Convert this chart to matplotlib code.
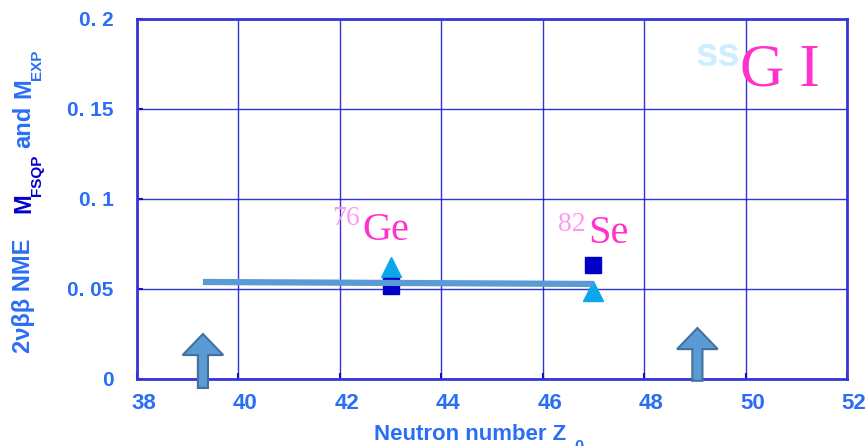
import matplotlib
matplotlib.use("Agg")
import matplotlib.pyplot as plt
import matplotlib.transforms as mtransforms
from matplotlib.patches import FancyArrow

sans = 'Liberation Sans'

# data
nuclei = ['76Ge', '82Se']
neutron_z = [43, 47]
m_exp = [0.0622, 0.0489]      # triangles
m_fsqp = [0.0517, 0.0636]     # squares
fit_x = [39.3, 47.0]
fit_y = [0.0539, 0.0528]
arrow_x = [39.3, 49.05]
arrow_y0 = [-0.005, -0.001]
arrow_y1 = [0.025, 0.0283]
xticks = [38, 40, 42, 44, 46, 48, 50, 52]
yticks = [0, 0.05, 0.1, 0.15, 0.2]
ytick_labels = ['0', '0. 05', '0. 1', '0. 15', '0. 2']

BLUE = '#2a6ef5'
DARK = '#0000c8'
PINK = '#ff33cc'
LPINK = '#ff99ee'

fig = plt.figure(figsize=(8.65, 4.46), dpi=100)
ax = fig.add_axes([137/865, 67/446, 710/865, 360/446])
ax.set_xlim(38, 52)
ax.set_ylim(0, 0.2)
ax.set_xticks(xticks)
ax.set_yticks(yticks)
ax.set_yticklabels(ytick_labels)
ax.grid(True, color='#1010c8', linewidth=1.0, alpha=0.85)
ax.set_axisbelow(True)
for s in ax.spines.values():
    s.set_color('#3535d8')
    s.set_linewidth(2)
ax.tick_params(direction='in', length=4, color='#1010c8', width=1.5,
               labelcolor=BLUE)
ax.tick_params(axis='y', pad=17, labelsize=15)
ax.tick_params(axis='x', pad=10, labelsize=16)
shift = mtransforms.ScaledTranslation(7/100, 0, fig.dpi_scale_trans)
for lab in ax.get_xticklabels():
    lab.set_transform(lab.get_transform() + shift)
for lab in ax.get_xticklabels() + ax.get_yticklabels():
    lab.set_fontfamily(sans)
    lab.set_fontweight('bold')

ax.plot(neutron_z, m_exp, linestyle='none', marker='^', markersize=14,
        color='#0aa8e8', zorder=3)
ax.plot(neutron_z, m_fsqp, linestyle='none', marker='s', markersize=12,
        color=DARK, zorder=3)
ax.plot(fit_x, fit_y, color='#5b9bd5', linewidth=4.5, zorder=4,
        solid_capstyle='butt')

for x, y0, y1 in zip(arrow_x, arrow_y0, arrow_y1):
    ar = FancyArrow(x, y0, 0, y1 - y0, width=0.2, head_width=0.8,
                    head_length=0.0117, length_includes_head=True,
                    facecolor='#5b9bd5', edgecolor='#41719c', linewidth=1.5,
                    clip_on=False, zorder=5)
    ax.add_patch(ar)

# nucleus labels
ax.text(42.44, 0.0772, 'Ge', color=PINK, fontsize=29, family='Liberation Serif',
        ha='left', va='baseline')
ax.text(42.40, 0.0855, '76', color=LPINK, fontsize=20, family='Liberation Serif',
        ha='right', va='baseline')
ax.text(46.9, 0.0756, 'Se', color=PINK, fontsize=29, family='Liberation Serif',
        ha='left', va='baseline')
ax.text(46.85, 0.0822, '82', color=LPINK, fontsize=20, family='Liberation Serif',
        ha='right', va='baseline')

# ssGI
ax.text(49.9, 0.163, 'G I', color=PINK, fontsize=44, family='Liberation Serif',
        ha='left', va='baseline')
ax.text(49.9, 0.174, 'ss', color='#cdeeff', fontsize=29, family='Liberation Sans',
        fontweight='bold', ha='right', va='baseline')

# x label
fig.text(374/865, 1 - 440/446, 'Neutron number Z', color=BLUE, fontsize=16,
         family=sans, fontweight='bold', ha='left', va='baseline')
fig.text(574/865, 1 - 452/446, '0', color=BLUE, fontsize=12,
         family=sans, fontweight='bold', ha='left', va='baseline')

# y label pieces (rotated)
kw = dict(rotation=90, family=sans, fontweight='bold', fontsize=17)
fig.text(12/865, 1 - 353/446, '2νββ NME', color=BLUE, ha='left', va='bottom', **kw)
fig.text(12/865, 1 - 213/446, 'M', color=DARK, ha='left', va='bottom', **kw)
fig.text(30/865, 1 - 196/446, 'FSQP', color=DARK, ha='left', va='bottom',
         rotation=90, family=sans, fontweight='bold', fontsize=11)
fig.text(12/865, 1 - 148/446, 'and', color=BLUE, ha='left', va='bottom', **kw)
fig.text(12/865, 1 - 98/446, 'M', color=BLUE, ha='left', va='bottom', **kw)
fig.text(30/865, 1 - 80/446, 'EXP', color=BLUE, ha='left', va='bottom',
         rotation=90, family=sans, fontweight='bold', fontsize=11)

fig.savefig('out.png', dpi=100)
